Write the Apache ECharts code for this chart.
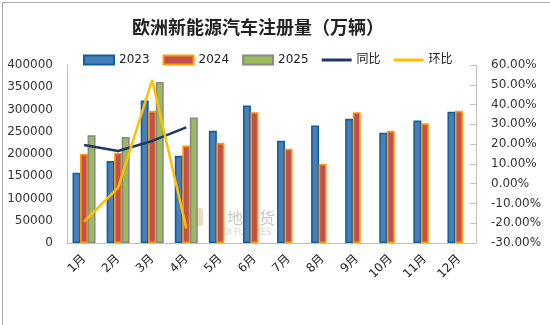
<!DOCTYPE html>
<html>
<head>
<meta charset="utf-8">
<script src="https://cdn.jsdelivr.net/npm/echarts@6/dist/echarts.min.js"></script>
<style>
  html, body { margin: 0; padding: 0; background: #fff; }
  #chart { width: 550px; height: 325px; }
</style>
</head>
<body>
<div id="chart"></div>
<script>
// Monthly EV registrations in Europe, with YoY and MoM change
const months = ['1月', '2月', '3月', '4月', '5月', '6月', '7月', '8月', '9月', '10月', '11月', '12月'];
const reg2023 = [158000, 184000, 320000, 196000, 252000, 309000, 230000, 264000, 279000, 248000, 275000, 295000];
const reg2024 = [200000, 203000, 297000, 219000, 225000, 294000, 212000, 178000, 294000, 252000, 269000, 297000];
const reg2025 = [242000, 238000, 362000, 282000, null, null, null, null, null, null, null, null];
const yoy = [19.6, 16.5, 21.6, 28.5, null, null, null, null, null, null, null, null];
const mom = [-19.2, -2.0, 52.4, -22.6, null, null, null, null, null, null, null, null];
const leftTicks = { min: 0, max: 400000, step: 50000 };
const rightTicks = { min: -30, max: 60, step: 10 };

const FONT = '"DejaVu Sans", "Noto Sans CJK SC", sans-serif';
const LINE_ICON = 'path://M0,0 H30 V3 H0 Z';
const chart = echarts.init(document.getElementById('chart'), null, { renderer: 'canvas' });

function barSeries(name, data, fill, border) {
  return {
    name, type: 'bar', data,
    barWidth: 8, barGap: '-6%',
    itemStyle: { color: fill, borderColor: border, borderWidth: 1.6 },
    z: 2
  };
}

chart.setOption({
  animation: false,
  backgroundColor: '#fff',
  textStyle: { fontFamily: FONT },
  title: {
    text: '欧洲新能源汽车注册量（万辆）',
    left: 127, top: 13,
    textStyle: { fontSize: 18, fontWeight: 'bold', color: '#222', fontFamily: '"Noto Sans CJK SC", sans-serif' }
  },
  legend: {
    top: 49, left: 78,
    itemWidth: 30, itemHeight: 9, itemGap: 13,
    textStyle: { fontSize: 12, color: '#222', fontFamily: FONT },
    data: [
      { name: '2023', icon: 'rect' },
      { name: '2024', icon: 'rect' },
      { name: '2025', icon: 'rect' },
      { name: '同比', icon: LINE_ICON },
      { name: '环比', icon: LINE_ICON }
    ]
  },
  grid: { left: 67, right: 74, top: 65, bottom: 82, outerBoundsMode: 'none', containLabel: false },
  xAxis: {
    type: 'category', data: months,
    axisLine: { lineStyle: { color: '#bfbfbf', width: 1 } },
    axisTick: { show: false },
    axisLabel: { rotate: 45, fontSize: 12, color: '#222', margin: 14, fontFamily: FONT }
  },
  yAxis: [
    {
      type: 'value', min: leftTicks.min, max: leftTicks.max, interval: leftTicks.step,
      axisLine: { show: true, lineStyle: { color: '#bfbfbf' } },
      axisTick: { show: false },
      splitLine: { show: false },
      axisLabel: { fontSize: 12, color: '#333', margin: 14, fontFamily: FONT,
        formatter: v => String(v) }
    },
    {
      type: 'value', min: rightTicks.min, max: rightTicks.max, interval: rightTicks.step,
      position: 'right',
      axisLine: { show: true, lineStyle: { color: '#bfbfbf' } },
      axisTick: { show: true, inside: true, length: 6, lineStyle: { color: '#bfbfbf' } },
      splitLine: { show: false },
      axisLabel: { fontSize: 12, color: '#333', margin: 15, fontFamily: FONT,
        formatter: v => v.toFixed(2) + '%' }
    }
  ],
  graphic: [
    { type: 'rect', left: 0, top: 0, z: -10, silent: true,
      shape: { width: 549, height: 324 },
      style: { fill: 'none', stroke: '#a6a6a6', lineWidth: 1 } },
    { type: 'rect', left: 192, top: 208, z: -5, silent: true,
      shape: { width: 11, height: 18, r: 2 },
      style: { fill: '#e8dcc8' } },
    { type: 'text', left: 227, top: 210, z: -5, silent: true,
      style: { text: '地期货', fill: '#c8c8c8', font: '16px "Noto Sans CJK SC"' } },
    { type: 'text', left: 223, top: 229, z: -5, silent: true,
      style: { text: 'DI FUTURES', fill: '#d0d0d0', font: '8px "DejaVu Sans"' } }
  ],
  series: [
    barSeries('2023', reg2023, '#4a7ebb', '#0f6196'),
    barSeries('2024', reg2024, '#c0504d', '#ff9a00'),
    barSeries('2025', reg2025, '#9bbb59', '#8a8a8a'),
    {
      name: '同比', type: 'line', yAxisIndex: 1, data: yoy,
      symbol: 'none', lineStyle: { color: '#1f3864', width: 2.5 },
      itemStyle: { color: '#1f3864' }, z: 5
    },
    {
      name: '环比', type: 'line', yAxisIndex: 1, data: mom,
      symbol: 'none', lineStyle: { color: '#ffc000', width: 2.5 },
      itemStyle: { color: '#ffc000' }, z: 6
    }
  ]
});
</script>
</body>
</html>
